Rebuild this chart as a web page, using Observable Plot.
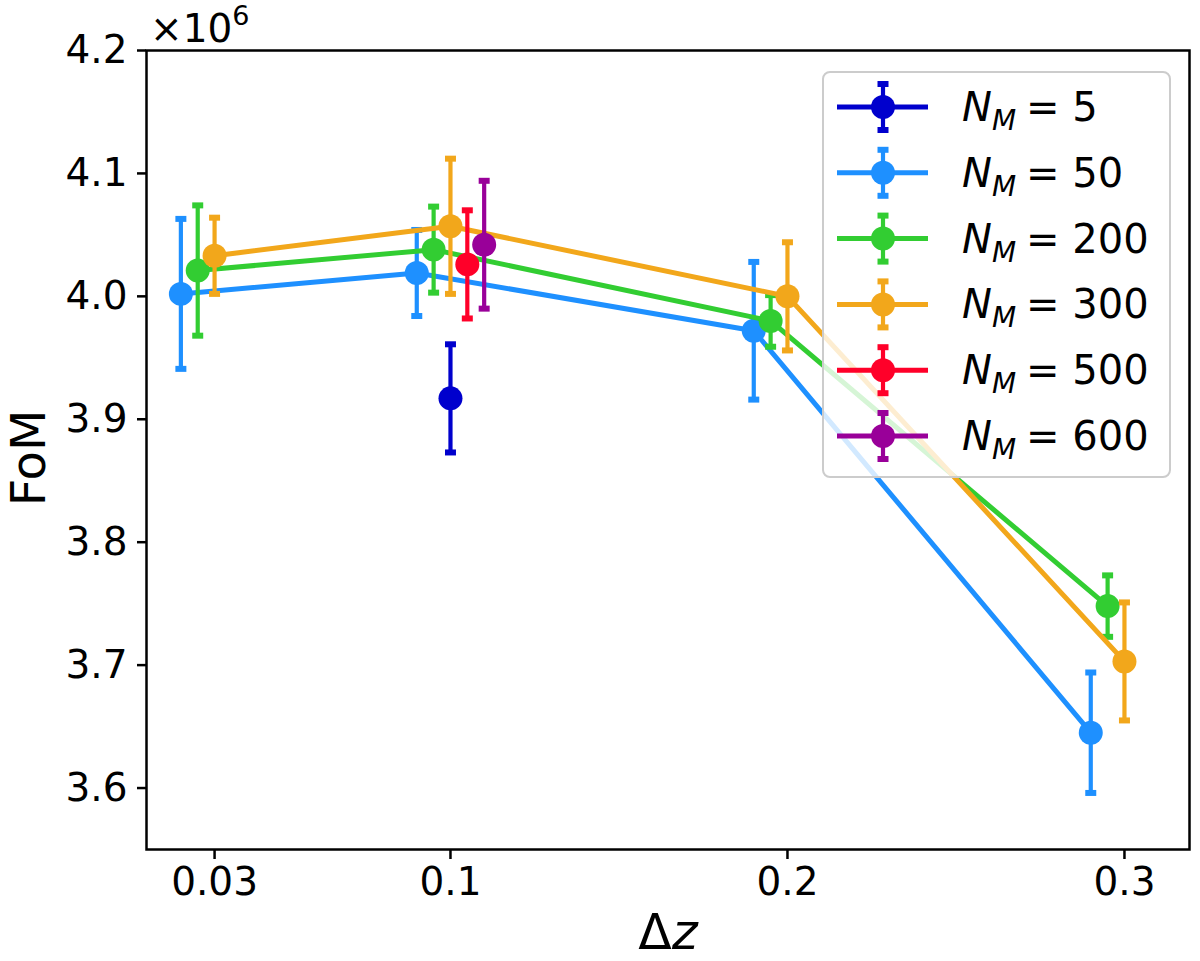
<!DOCTYPE html>
<html><head><meta charset="utf-8">
<script src="https://cdn.jsdelivr.net/npm/d3@7"></script>
<script src="https://cdn.jsdelivr.net/npm/@observablehq/plot@0.6"></script>
<style>body{margin:0;background:#fff;} #chart{position:relative;width:1200px;height:961px;}</style>
</head><body><div id="chart"></div>
<script>
// Series: N_M values and colours
const nmValues = [5, 50, 200, 300, 500, 600];
const seriesColors = ["#0000cd", "#1e90ff", "#32cd32", "#f2a71b", "#ff0029", "#990099"];

// Δz positions (slightly offset per series), FoM (×10^6) and 1σ errors
const dz_N5 = [0.1];
const fom_N5 = [3.917];
const err_N5 = [0.044];

const dz_N50 = [0.02, 0.09, 0.19, 0.29];
const fom_N50 = [4.002, 4.019, 3.972, 3.645];
const err_N50 = [0.061, 0.035, 0.056, 0.049];

const dz_N200 = [0.025, 0.095, 0.195, 0.295];
const fom_N200 = [4.021, 4.038, 3.980, 3.748];
const err_N200 = [0.053, 0.035, 0.021, 0.025];

const dz_N300 = [0.03, 0.1, 0.2, 0.3];
const fom_N300 = [4.033, 4.057, 4.000, 3.703];
const err_N300 = [0.031, 0.055, 0.044, 0.048];

const dz_N500 = [0.105];
const fom_N500 = [4.026];
const err_N500 = [0.044];

const dz_N600 = [0.11];
const fom_N600 = [4.042];
const err_N600 = [0.052];

const xTicks = [0.03, 0.1, 0.2, 0.3];
const yTicks = [3.6, 3.7, 3.8, 3.9, 4.0, 4.1, 4.2];

const seriesData = [
  [dz_N5, fom_N5, err_N5],
  [dz_N50, fom_N50, err_N50],
  [dz_N200, fom_N200, err_N200],
  [dz_N300, fom_N300, err_N300],
  [dz_N500, fom_N500, err_N500],
  [dz_N600, fom_N600, err_N600]
];

const capSymbol = {draw(ctx) { ctx.rect(-5.5, -3, 11, 6); }};

const marks = [];
seriesData.forEach(([xs, ys, es], i) => {
  const rows = xs.map((x, j) => ({dz: x, fom: ys[j], lo: ys[j] - es[j], hi: ys[j] + es[j]}));
  const c = seriesColors[i];
  marks.push(Plot.ruleX(rows, {x: "dz", y1: "lo", y2: "hi", stroke: c, strokeWidth: 4.2}));
  marks.push(Plot.dot(rows, {x: "dz", y: "lo", symbol: capSymbol, fill: c, stroke: "none"}));
  marks.push(Plot.dot(rows, {x: "dz", y: "hi", symbol: capSymbol, fill: c, stroke: "none"}));
  if (rows.length > 1) marks.push(Plot.line(rows, {x: "dz", y: "fom", stroke: c, strokeWidth: 5}));
  marks.push(Plot.dot(rows, {x: "dz", y: "fom", r: 12, fill: c, stroke: "none"}));
});

marks.push(Plot.axisX({ticks: xTicks, tickFormat: d => String(d), tickSize: 10, tickPadding: 8,
  fontSize: 39, strokeWidth: 2.5, label: null}));
marks.push(Plot.axisY({ticks: yTicks, tickFormat: d3.format(".1f"), tickSize: 9, tickPadding: 10,
  fontSize: 39, strokeWidth: 2.5, label: null}));
marks.push(Plot.frame({stroke: "black", strokeWidth: 2.5}));

const chart = Plot.plot({
  width: 1200, height: 961,
  marginLeft: 146, marginRight: 11, marginTop: 50, marginBottom: 112,
  x: {type: "linear", domain: [0.0098, 0.3193], label: null},
  y: {type: "linear", domain: [3.55, 4.2], label: null},
  style: {fontFamily: "DejaVu Sans", color: "black", background: "white"},
  marks
});
document.getElementById("chart").appendChild(chart);

const svg = d3.select(chart);
const F = "DejaVu Sans";

// Axis labels
const xl = svg.append("text").attr("x", 668).attr("y", 949).attr("text-anchor", "middle")
  .attr("font-family", F).attr("font-size", 49).attr("fill", "black");
xl.append("tspan").text("Δ");
xl.append("tspan").attr("font-style", "italic").text("z");

svg.append("text").attr("transform", "translate(45,458) rotate(-90)").attr("text-anchor", "middle")
  .attr("font-family", F).attr("font-size", 48).attr("fill", "black").text("FoM");

// Offset text
const off = svg.append("text").attr("x", 150).attr("y", 42).attr("text-anchor", "start")
  .attr("font-family", F).attr("font-size", 39).attr("fill", "black");
off.append("tspan").text("×10");
off.append("tspan").attr("font-size", 27).attr("dy", -17).text("6");

// Legend
const lg = svg.append("g");
lg.append("rect").attr("x", 823).attr("y", 72).attr("width", 347).attr("height", 405).attr("rx", 7)
  .attr("fill", "white").attr("fill-opacity", 0.8).attr("stroke", "#cccccc").attr("stroke-width", 2);
nmValues.forEach((nm, i) => {
  const cy = 107 + i * 65.8;
  const c = seriesColors[i];
  lg.append("line").attr("x1", 837).attr("x2", 928).attr("y1", cy).attr("y2", cy)
    .attr("stroke", c).attr("stroke-width", 5);
  lg.append("line").attr("x1", 883).attr("x2", 883).attr("y1", cy - 23).attr("y2", cy + 23)
    .attr("stroke", c).attr("stroke-width", 4.2);
  [cy - 23, cy + 23].forEach(yy => lg.append("rect").attr("x", 877.5).attr("y", yy - 3)
    .attr("width", 11).attr("height", 6).attr("fill", c));
  lg.append("circle").attr("cx", 883).attr("cy", cy).attr("r", 12).attr("fill", c);
  const t = lg.append("text").attr("x", 962).attr("y", cy + 14).attr("text-anchor", "start")
    .attr("font-family", F).attr("font-size", 40).attr("fill", "black");
  t.append("tspan").attr("font-style", "italic").text("N");
  t.append("tspan").attr("font-style", "italic").attr("font-size", 28).attr("dy", 9).text("M");
  t.append("tspan").attr("dy", -9).attr("dx", 10).text("= " + nm);
});
</script>
</body></html>
